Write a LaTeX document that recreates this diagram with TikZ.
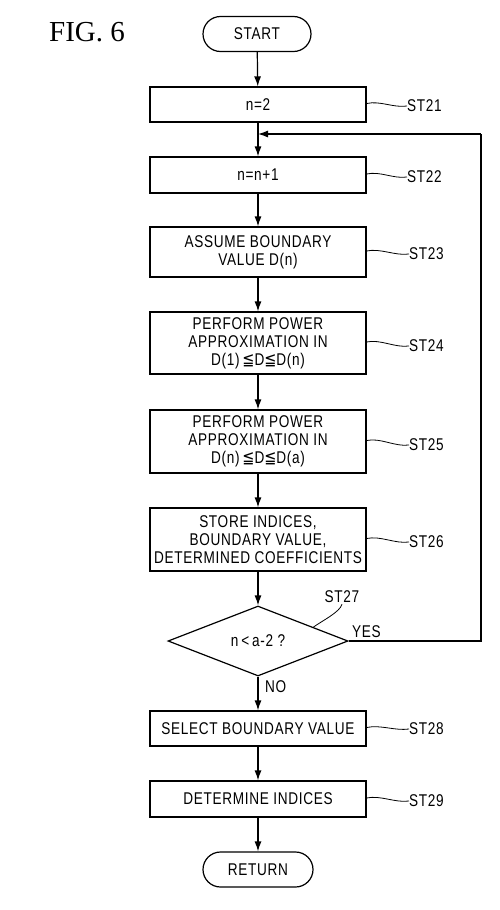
\documentclass[tikz,border=0pt]{standalone}
\usepackage{fontspec}
\setmainfont{Liberation Serif}
\newfontfamily\cf[FakeStretch=0.8,LetterSpace=4]{Liberation Sans}
\newfontfamily\cfsym[FakeStretch=0.85]{DejaVu Sans}
\usetikzlibrary{arrows.meta,shapes.geometric}
\newcommand{\leqq}{{\cfsym ≦}}
\begin{document}
\begin{tikzpicture}[x=1pt,y=-1pt,
  every node/.style={font=\cf\fontsize{17}{18}\selectfont, inner sep=0pt},
  proc/.style={draw, line width=1.2pt, minimum width=216pt, align=center},
  term/.style={draw, line width=1.2pt, rounded corners=17.5pt, minimum height=35pt, align=center},
  dec/.style={draw, line width=1.2pt, diamond, minimum width=180pt, minimum height=70pt, align=center},
  flow/.style={line width=1.2pt, -{Latex[length=10pt,width=7pt]}},
  plain/.style={line width=1.2pt},
  squig/.style={line width=0.8pt},
  lab/.style={anchor=west}]
\useasboundingbox (0,0) rectangle (500,910);

\node[font=\rmfamily\fontsize{29}{30}\selectfont] (fig) at (87,32) {FIG. 6};

\node[term, minimum width=108pt] (start) at (257,34) {START};
\node[proc, minimum height=35pt] (s21) at (258,104.5) {n=2};
\node[proc, minimum height=36pt] (s22) at (258,175) {n=n+1};
\node[proc, minimum height=50pt] (s23) at (258,252) {ASSUME BOUNDARY\\VALUE D(n)};
\node[proc, minimum height=62pt] (s24) at (258,343) {PERFORM POWER\\APPROXIMATION IN\\D(1)\,\leqq D\leqq D(n)};
\node[proc, minimum height=63pt] (s25) at (258,441.5) {PERFORM POWER\\APPROXIMATION IN\\D(n)\,\leqq D\leqq D(a)};
\node[proc, minimum height=63pt] (s26) at (258,539.5) {STORE INDICES,\\BOUNDARY VALUE,\\DETERMINED COEFFICIENTS};
\node[dec] (s27) at (258,641) {n\,<\,a-2 ?};
\node[proc, minimum height=35pt] (s28) at (258,728.5) {SELECT BOUNDARY VALUE};
\node[proc, minimum height=36pt] (s29) at (258,799) {DETERMINE INDICES};
\node[term, minimum width=110pt] (ret) at (258,869.5) {RETURN};

\coordinate (join) at (258,134);
\coordinate (c1) at (481,641);
\coordinate (c2) at (481,134);

\draw[flow] (start) -- (s21);
\draw[flow] (s21) -- (s22);
\draw[flow] (s22) -- (s23);
\draw[flow] (s23) -- (s24);
\draw[flow] (s24) -- (s25);
\draw[flow] (s25) -- (s26);
\draw[flow] (s26) -- (s27);
\draw[flow] (s27) -- (s28);
\draw[flow] (s28) -- (s29);
\draw[flow] (s29) -- (ret);
\draw[plain] (s27.east) -- (c1) -- (c2);
\draw[flow] (c2) -- (join);

\node[anchor=south west] (yes) at (352,638) {YES};
\node[anchor=west] (no) at (265,687) {NO};

\node[lab] (l21) at (407,106) {ST21};
\node[lab] (l22) at (407,177) {ST22};
\node[lab] (l23) at (409,254) {ST23};
\node[lab] (l24) at (409,346) {ST24};
\node[lab] (l25) at (409,445) {ST25};
\node[lab] (l26) at (409,542) {ST26};
\node[lab] (l28) at (409,729) {ST28};
\node[lab] (l29) at (409,801) {ST29};
\node (l27) at (342,597) {ST27};

\foreach \b/\l in {s21/l21,s22/l22,s23/l23,s24/l24,s25/l25,s26/l26,s28/l28,s29/l29}{
  \draw[squig] ([yshift=1pt]\b.east) .. controls +(14,-3) and +(-14,2) .. (\l.west);
}
\coordinate (d27) at (313,627.4);
\draw[squig] ([yshift=-1pt]l27.south) .. controls +(-2,8) and +(8,-6) .. (d27);
\end{tikzpicture}
\end{document}
